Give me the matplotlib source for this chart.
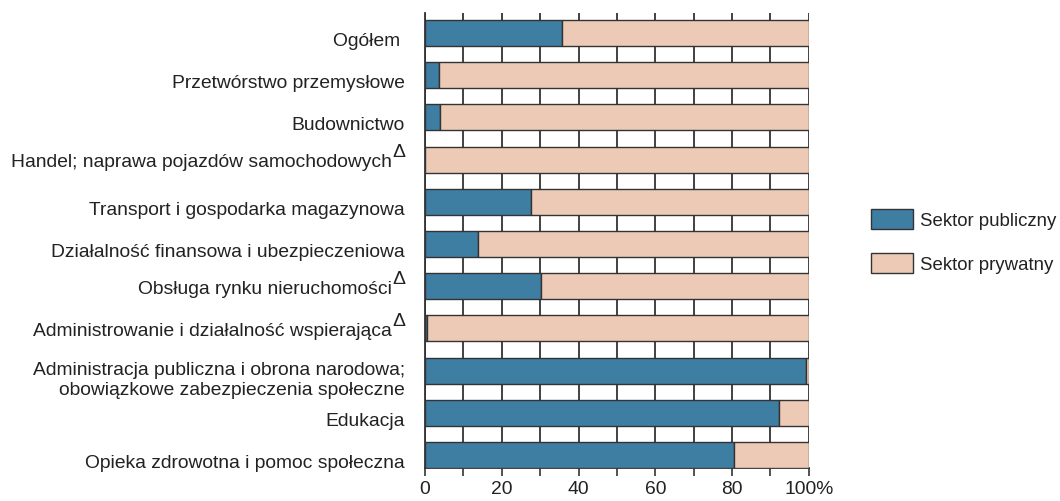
"""Public vs private sector share by section (stacked horizontal bars)."""

import matplotlib

matplotlib.use("Agg")
import matplotlib.pyplot as plt
import matplotlib.transforms as mtransforms

plt.rcParams["font.family"] = ["Liberation Sans", "DejaVu Sans"]

categories = [
	"Ogółem ",
	"Przetwórstwo przemysłowe",
	"Budownictwo",
	"Handel; naprawa pojazdów samochodowych",
	"Transport i gospodarka magazynowa",
	"Działalność finansowa i ubezpieczeniowa",
	"Obsługa rynku nieruchomości",
	"Administrowanie i działalność wspierająca",
	"Administracja publiczna i obrona narodowa;\nobowiązkowe zabezpieczenia społeczne",
	"Edukacja",
	"Opieka zdrowotna i pomoc społeczna",
]
# categories marked with a superscript triangle
flagged = [False, False, False, True, False, False, True, True, False, False, False]
public = [35.6, 3.6, 4.0, 0.1, 27.5, 13.7, 30.1, 0.6, 99.2, 92.3, 80.6]
private = [100 - v for v in public]

x_ticks = list(range(0, 101, 10))
x_labels = ["0", "", "20", "", "40", "", "60", "", "80", "", "100%"]

BLUE = "#3f7ea3"
PEACH = "#edcab6"
EDGE = "#333333"
TEXT = "#222222"
FS = 13.9


def main() -> None:
	fig = plt.figure(figsize=(10.6, 5.02), dpi=100)
	ax = fig.add_axes([0.401, 0.0657, 0.362, 0.9064])

	pos = list(range(len(categories)))
	h = 0.613
	ax.barh(pos, public, height=h, color=BLUE, edgecolor=EDGE, linewidth=1.0,
		label="Sektor publiczny", zorder=3)
	ax.barh(pos, private, left=public, height=h, color=PEACH, edgecolor=EDGE,
		linewidth=1.0, label="Sektor prywatny", zorder=3)

	ax.set_xlim(0, 100)
	ax.set_ylim(len(categories) - 1 + h / 2, -h / 2 - 0.165)
	ax.set_yticks(pos)
	ax.set_yticklabels(categories, fontsize=FS, color=TEXT)
	ax.tick_params(axis="y", length=0, pad=14.4)
	ax.set_xticks(x_ticks)
	ax.set_xticklabels(x_labels, fontsize=FS, color=TEXT)
	ax.tick_params(axis="x", length=5.8, width=1.2, color=EDGE, pad=3)

	# labels sit a little below the bar centres in the original
	shift = mtransforms.ScaledTranslation(0, -4 / 72, fig.dpi_scale_trans)
	for lab in ax.get_yticklabels():
		lab.set_transform(lab.get_transform() + shift)

	# room for the superscript triangle on flagged labels
	for tick, flag in zip(ax.yaxis.get_major_ticks(), flagged):
		if flag:
			tick.set_pad(14.4 + 9.5)
	for p, flag in zip(pos, flagged):
		if flag:
			ax.annotate("Δ", xy=(0, p), xycoords=("axes fraction", "data"),
				xytext=(-14.4, 2.5), textcoords="offset points",
				ha="right", va="baseline", fontsize=FS, color=TEXT,
				annotation_clip=False)

	ax.grid(axis="x", color=EDGE, linewidth=1.3, zorder=1)
	ax.set_axisbelow(True)
	for side in ("top", "right"):
		ax.spines[side].set_visible(False)
	for side in ("left", "bottom"):
		ax.spines[side].set_color(EDGE)
		ax.spines[side].set_linewidth(1.3)

	fig.legend(
		loc="upper left",
		bbox_to_anchor=(871 / 1060, 1 - 210 / 502),
		frameon=False,
		fontsize=13.4,
		handlelength=2.28,
		handleheight=1.24,
		handletextpad=0.33,
		labelspacing=1.3,
		borderpad=0,
		borderaxespad=0,
	)
	for t in fig.legends[0].get_texts():
		t.set_color(TEXT)

	fig.savefig("out.png", dpi=100)


if __name__ == "__main__":
	main()
